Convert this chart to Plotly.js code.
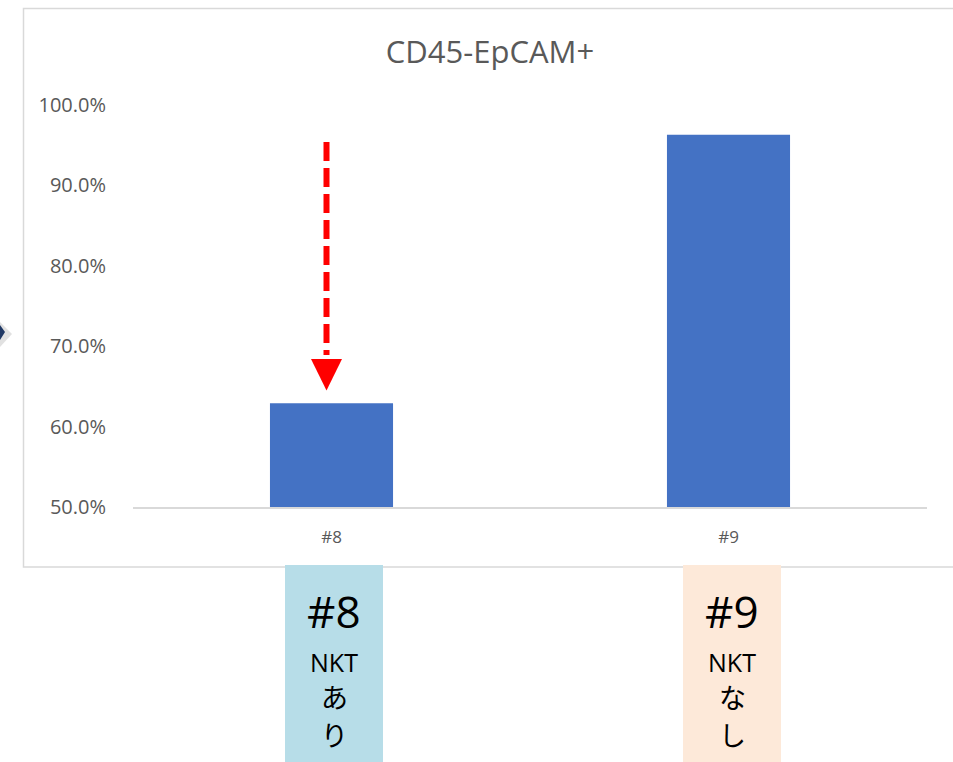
<!DOCTYPE html>
<html>
<head>
<meta charset="utf-8">
<script src="https://cdn.plot.ly/plotly-3.0.1.min.js"></script>
<style>
  html, body { margin: 0; padding: 0; background: #ffffff; }
  #chart { width: 953px; height: 762px; }
</style>
</head>
<body>
<div id="chart"></div>
<script>
// Share of CD45-EpCAM+ cells per sample
const samples = ['#8', '#9'];
const epcamShare = [0.629, 0.963];
const yTickValues = [0.5, 0.6, 0.7, 0.8, 0.9, 1.0];

// Group labels shown under each sample
const groupIds = ['#8', '#9'];
const groupLine1 = ['NKT', 'NKT'];
const groupLine2 = ['あ', 'な'];
const groupLine3 = ['り', 'し'];
const groupColors = ['#B7DDE8', '#FDE9D9'];

const W = 953, H = 762;
const M = { l: 133, r: 26, t: 105, b: 255 };
const plotW = W - M.l - M.r;
const plotH = H - M.t - M.b;
// pixel -> paper coordinates
const px = x => (x - M.l) / plotW;
const py = y => (H - M.b - y) / plotH;

const greyText = '#595959';
const frameColor = '#D9D9D9';

const trace = {
  type: 'bar',
  x: samples,
  y: epcamShare,
  marker: { color: '#4472C4', line: { width: 0 } },
  hoverinfo: 'x+y'
};

const shapes = [];
// chart frame (right edge runs past the page)
shapes.push({
  type: 'rect', xref: 'paper', yref: 'paper', layer: 'below',
  x0: px(23.5), x1: px(1010), y0: py(567), y1: py(8.5),
  line: { color: frameColor, width: 1.5 }, fillcolor: 'rgba(0,0,0,0)'
});

// dashed red arrow pointing down at the first bar
const arrowX = 326.5;
const tipY = epcamShare[0] + 0.016;
const headBaseY = tipY + 0.039;
const startY = 0.954;
shapes.push({
  type: 'line', xref: 'paper', yref: 'y',
  x0: px(arrowX), x1: px(arrowX), y0: startY, y1: headBaseY + 0.005,
  line: { color: '#FF0000', width: 6, dash: '19px,7px' }
});
shapes.push({
  type: 'path', xref: 'paper', yref: 'y',
  path: 'M ' + px(arrowX - 15.5) + ' ' + headBaseY +
        ' L ' + px(arrowX + 15.5) + ' ' + headBaseY +
        ' L ' + px(arrowX) + ' ' + tipY + ' Z',
  fillcolor: '#FF0000', line: { width: 0 }
});

// small dark arrow tip at the left edge with its shadow
shapes.push({
  type: 'path', xref: 'paper', yref: 'paper',
  path: 'M ' + px(0) + ' ' + py(322) + ' L ' + px(12) + ' ' + py(334) +
        ' L ' + px(0) + ' ' + py(347) + ' Z',
  fillcolor: 'rgba(120,120,120,0.22)', line: { width: 0 }
});
shapes.push({
  type: 'path', xref: 'paper', yref: 'paper',
  path: 'M ' + px(0) + ' ' + py(325) + ' L ' + px(5) + ' ' + py(332) +
        ' L ' + px(0) + ' ' + py(340) + ' Z',
  fillcolor: '#1F3864', line: { width: 0 }
});

// group label boxes
const boxLeft = [285, 683];
const boxW = 98;
const annotations = [];
for (let i = 0; i < groupIds.length; i++) {
  const x0 = boxLeft[i], cx = x0 + boxW / 2;
  shapes.push({
    type: 'rect', xref: 'paper', yref: 'paper', layer: 'above',
    x0: px(x0), x1: px(x0 + boxW), y0: py(775), y1: py(565),
    fillcolor: groupColors[i], line: { width: 0 }
  });
  const lines = [
    [groupIds[i], 611, 44, 'Open Sans, Noto Sans, sans-serif'],
    [groupLine1[i], 662, 25, 'Open Sans, Noto Sans, sans-serif'],
    [groupLine2[i], 696, 27, 'Noto Sans CJK JP, sans-serif'],
    [groupLine3[i], 734, 27, 'Noto Sans CJK JP, sans-serif']
  ];
  lines.forEach(([t, y, s, f]) => annotations.push({
    xref: 'paper', yref: 'paper', x: px(cx), y: py(y),
    xanchor: 'center', yanchor: 'middle', showarrow: false,
    text: t, font: { family: f, size: s, color: '#000000' }
  }));
}

const layout = {
  width: W, height: H,
  margin: M,
  paper_bgcolor: '#ffffff',
  plot_bgcolor: '#ffffff',
  showlegend: false,
  bargap: 0.69,
  title: {
    text: 'CD45-EpCAM+',
    xref: 'container', yref: 'container',
    x: 490 / W, y: 1 - 52 / H, xanchor: 'center', yanchor: 'middle',
    font: { family: 'Open Sans, sans-serif', size: 31, color: greyText }
  },
  xaxis: {
    type: 'category',
    showgrid: false, zeroline: false,
    showline: true, linecolor: frameColor, linewidth: 1.5,
    ticks: 'outside', ticklen: 14, tickcolor: 'rgba(0,0,0,0)',
    tickfont: { family: 'Open Sans, sans-serif', size: 17, color: greyText }
  },
  yaxis: {
    range: [0.5, 1.0],
    tickvals: yTickValues,
    tickformat: '.1%',
    showgrid: false, zeroline: false, showline: false,
    ticks: 'outside', ticklen: 22, tickcolor: 'rgba(0,0,0,0)',
    tickfont: { family: 'Open Sans, sans-serif', size: 20, color: greyText }
  },
  shapes: shapes,
  annotations: annotations
};

Plotly.newPlot('chart', [trace], layout, { displayModeBar: false, staticPlot: true });
</script>
</body>
</html>
